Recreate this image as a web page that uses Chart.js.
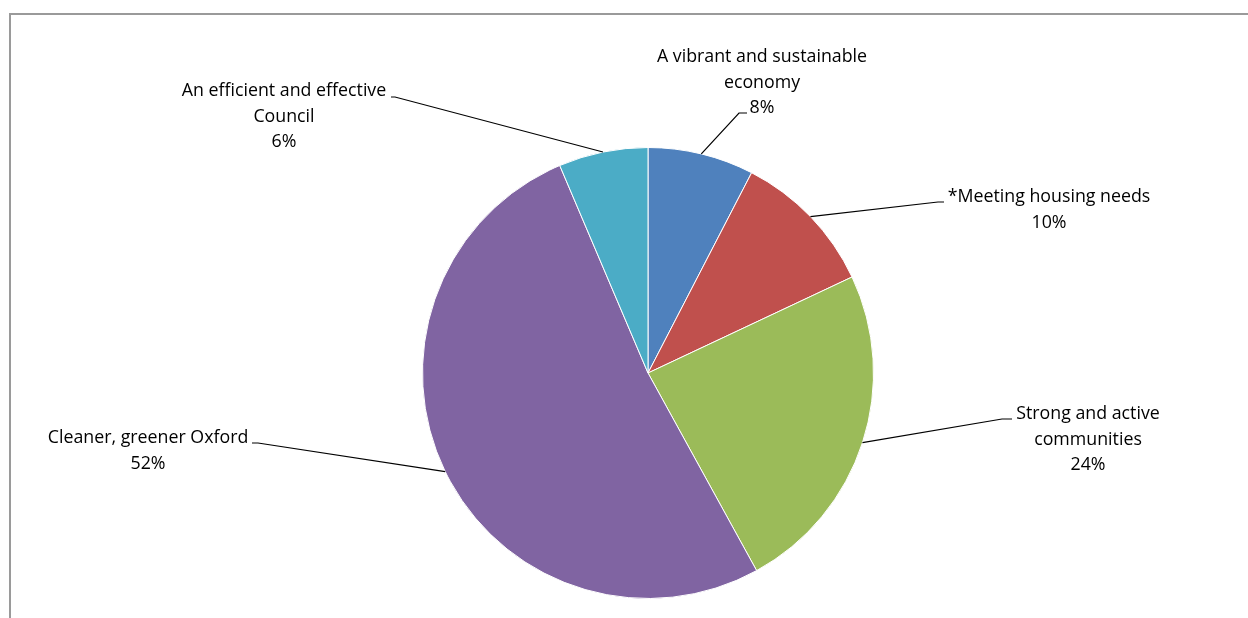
<!DOCTYPE html>
<html>
<head>
<meta charset="utf-8">
<script src="https://cdn.jsdelivr.net/npm/chart.js@4.4.0/dist/chart.umd.min.js"></script>
<style>
  html, body { margin: 0; padding: 0; background: #fff; }
  #wrap { position: relative; width: 1248px; height: 618px; }
</style>
</head>
<body>
<div id="wrap"><canvas id="pieChart" width="1248" height="618"></canvas></div>
<script>
// DATA
const categories = [
  ['A vibrant and sustainable', 'economy'],
  ['*Meeting housing needs'],
  ['Strong and active', 'communities'],
  ['Cleaner, greener Oxford'],
  ['An efficient and effective', 'Council']
];
const shares = [7.6, 10.4, 24.0, 51.6, 6.4];
const percentLabels = ['8%', '10%', '24%', '52%', '6%'];
const sliceColors = ['#4F81BD', '#C0504D', '#9BBB59', '#8064A2', '#4BACC6'];

// where each data label sits: elbow of the leader line, short tail, text centre
const labelLayout = [
  { elbow: [739, 113], tail: 8, cx: 762, cy: 57 },
  { elbow: [938, 202], tail: 6, cx: 1049, cy: 197 },
  { elbow: [1002, 419], tail: 10, cx: 1088, cy: 414 },
  { elbow: [258, 443], tail: -6, cx: 148, cy: 438 },
  { elbow: [395, 97], tail: -4, cx: 284, cy: 91 }
];

const LINE_H = 25.5;
const FONT = '17.8px "Open Sans", "Noto Sans", sans-serif';

// frame and leader-line labels
const labelPlugin = {
  id: 'leaderLabels',
  beforeDraw(chart) {
    const ctx = chart.ctx;
    ctx.save();
    ctx.strokeStyle = '#9a9a9a';
    ctx.lineWidth = 2;
    ctx.beginPath();
    ctx.moveTo(10, 618);
    ctx.lineTo(10, 14);
    ctx.lineTo(1248, 14);
    ctx.stroke();
    ctx.restore();
  },
  afterDraw(chart) {
    const ctx = chart.ctx;
    const arcs = chart.getDatasetMeta(0).data;
    ctx.save();
    ctx.font = FONT;
    ctx.fillStyle = '#000';
    ctx.textAlign = 'center';
    ctx.textBaseline = 'middle';
    arcs.forEach((arc, i) => {
      const p = arc.getProps(['x', 'y', 'startAngle', 'endAngle', 'outerRadius'], true);
      const mid = (p.startAngle + p.endAngle) / 2;
      const ax = p.x + Math.cos(mid) * p.outerRadius;
      const ay = p.y + Math.sin(mid) * p.outerRadius;
      const L = labelLayout[i];
      ctx.strokeStyle = '#000';
      ctx.lineWidth = 1.2;
      ctx.beginPath();
      ctx.moveTo(ax, ay);
      ctx.lineTo(L.elbow[0], L.elbow[1]);
      ctx.lineTo(L.elbow[0] + L.tail, L.elbow[1]);
      ctx.stroke();
      const lines = categories[i].concat([percentLabels[i]]);
      lines.forEach((t, k) => ctx.fillText(t, L.cx, L.cy + k * LINE_H));
    });
    ctx.restore();
  }
};

const pieCtx = document.getElementById('pieChart').getContext('2d');
new Chart(pieCtx, {
  type: 'pie',
  data: {
    labels: categories.map(c => c.join(' ')),
    datasets: [{
      data: shares,
      backgroundColor: sliceColors,
      borderColor: '#ffffff',
      borderWidth: 1
    }]
  },
  options: {
    responsive: false,
    animation: false,
    layout: { padding: { left: 422, right: 374, top: 147, bottom: 19 } },
    plugins: {
      legend: { display: false },
      tooltip: { enabled: false }
    }
  },
  plugins: [labelPlugin]
});
</script>
</body>
</html>
